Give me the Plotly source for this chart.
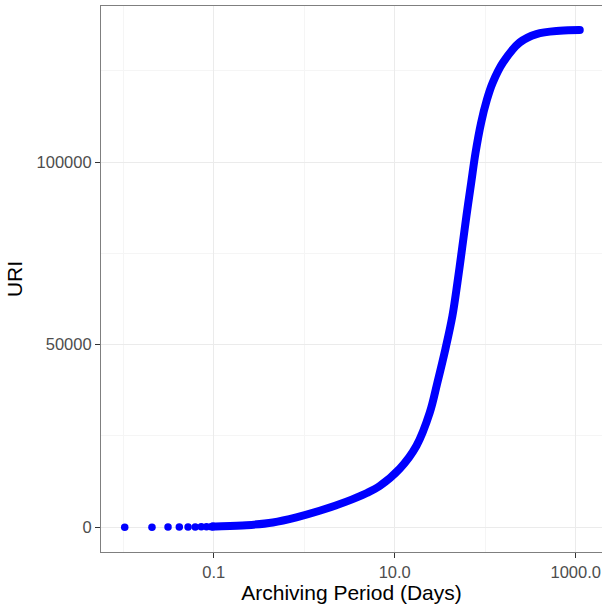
import plotly.graph_objects as go

# Short archiving periods recorded in 15-minute steps (days) and URI counts
sparse_days = [0.0104, 0.0208, 0.0313, 0.0417, 0.0521, 0.0625, 0.0729, 0.0833, 0.0938]
sparse_uri = [5, 15, 25, 40, 55, 75, 95, 120, 150]

# Cumulative URI count versus archiving period (days)
period_days = [0.098, 0.23, 0.45, 0.82, 1.48, 2.92, 4.86, 6.82, 11.35, 17.4,
               24.4, 29.6, 36.3, 43.4, 49.3, 55.4, 62.0, 70.0, 78.0, 90.0,
               104.0, 121.0, 157.0, 240.0, 368.0, 666.0, 1107.0]
uri_count = [190, 550, 1300, 2700, 4500, 7000, 9300, 11300, 16000, 22300,
             31400, 39600, 48800, 57900, 67000, 76200, 85300, 94400, 102500, 110800,
             117000, 121800, 127300, 132800, 135100, 136000, 136200]

x_ticks = [0.1, 10, 1000]
x_tick_text = ["0.1", "10.0", "1000.0"]
x_minor = [0.01, 1, 100]
y_ticks = [0, 50000, 100000]
y_tick_text = ["0", "50000", "100000"]
y_minor = [25000, 75000, 125000]

blue = "#0000FF"
fig = go.Figure()
fig.add_trace(go.Scatter(
    x=sparse_days, y=sparse_uri, mode="markers",
    marker=dict(color=blue, size=7.5, line=dict(width=0)),
    showlegend=False, hoverinfo="x+y",
))
fig.add_trace(go.Scatter(
    x=[sparse_days[-1]] + period_days, y=[sparse_uri[-1]] + uri_count,
    mode="lines",
    line=dict(color=blue, width=8, shape="spline", smoothing=1.0),
    showlegend=False, hoverinfo="x+y",
))
# round caps at the ends of the dense run
fig.add_trace(go.Scatter(
    x=[period_days[0], period_days[-1]], y=[uri_count[0], uri_count[-1]],
    mode="markers", marker=dict(color=blue, size=8, line=dict(width=0)),
    showlegend=False, hoverinfo="skip",
))

tick_font = dict(family="Liberation Sans, Arial, sans-serif", size=16.5, color="#4d4d4d")
title_font = dict(family="Liberation Sans, Arial, sans-serif", size=21, color="#000000")

fig.update_layout(
    width=602, height=605,
    margin=dict(l=101, r=0, t=6, b=53),
    paper_bgcolor="white", plot_bgcolor="white",
    xaxis=dict(
        type="log", range=[-2.245, 3.29],
        tickvals=x_ticks, ticktext=x_tick_text, tickfont=tick_font,
        ticks="outside", ticklen=5, tickwidth=1.2, tickcolor="#333333",
        showgrid=True, gridcolor="#ebebeb", gridwidth=1.2,
        minor=dict(tickvals=x_minor, showgrid=True, gridcolor="#f5f5f5", gridwidth=0.8, ticks=""),
        showline=True, linecolor="#7f7f7f", linewidth=1.2, mirror=True,
        zeroline=False,
        title=dict(text="Archiving Period (Days)", font=title_font, standoff=2),
    ),
    yaxis=dict(
        range=[-6800, 142800],
        tickvals=y_ticks, ticktext=y_tick_text, tickfont=tick_font,
        ticks="outside", ticklen=5, tickwidth=1.2, tickcolor="#333333",
        showgrid=True, gridcolor="#ebebeb", gridwidth=1.2,
        minor=dict(tickvals=y_minor, showgrid=True, gridcolor="#f5f5f5", gridwidth=0.8, ticks=""),
        showline=True, linecolor="#7f7f7f", linewidth=1.2, mirror=True,
        zeroline=False,
        title=dict(text="URI", font=title_font, standoff=8),
    ),
)

fig.write_html("out.html")
